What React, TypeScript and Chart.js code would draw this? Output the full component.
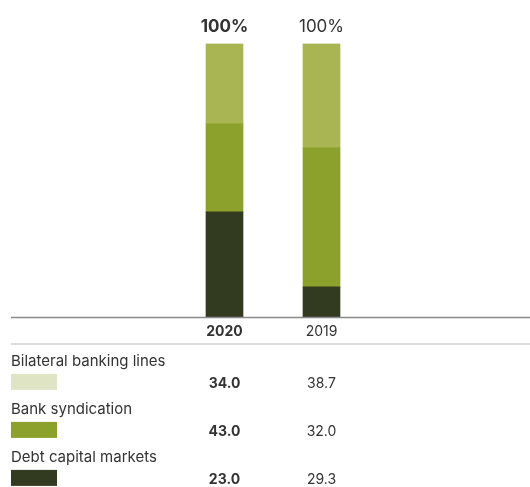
import React, { useEffect, useRef } from "react";
import { Chart, registerables } from "chart.js";

Chart.register(...registerables);

const categories = ["2020", "2019"];
const totalLabels = ["100%", "100%"];

// Bar segment heights as drawn in the picture (percent of total)
const debtCapitalMarkets = [38.4, 11.0];
const bankSyndication = [32.2, 50.8];
const bilateralBankingLines = [29.4, 38.2];

// Table rows (top to bottom)
const rowLabels = ["Bilateral banking lines", "Bank syndication", "Debt capital markets"];
const rowValues2020 = [34.0, 43.0, 23.0];
const rowValues2019 = [38.7, 32.0, 29.3];
const swatchColors = ["#dfe4c5", "#8ca12b", "#323a20"];

const FONT = "Inter, 'Noto Sans', sans-serif";
const TEXT = "#333333";

const overlay = {
  id: "overlay",
  afterDatasetsDraw(chart: any) {
    const { ctx, chartArea, scales } = chart;
    const xs = scales.x;
    const ys = scales.y;
    ctx.save();
    categories.forEach((_, i) => {
      let total = 0;
      chart.data.datasets.forEach((d: any) => (total += d.data[i]));
      const yTop = ys.getPixelForValue(total);
      ctx.font = `${i === 0 ? "bold " : ""}17px ${FONT}`;
      ctx.fillStyle = TEXT;
      ctx.textAlign = "center";
      ctx.textBaseline = "alphabetic";
      ctx.fillText(totalLabels[i], xs.getPixelForValue(i), yTop - 12);
    });
    ctx.strokeStyle = "#8a8a8a";
    ctx.lineWidth = 1.5;
    ctx.beginPath();
    ctx.moveTo(11, chartArea.bottom + 0.5);
    ctx.lineTo(530, chartArea.bottom + 0.5);
    ctx.stroke();
    ctx.restore();
  },
  afterDraw(chart: any) {
    const { ctx, chartArea, scales } = chart;
    const xs = scales.x;
    const sep = chartArea.bottom + 27;
    ctx.save();
    ctx.strokeStyle = "#d0d0d0";
    ctx.lineWidth = 1.5;
    ctx.beginPath();
    ctx.moveTo(11, sep);
    ctx.lineTo(530, sep);
    ctx.stroke();
    rowLabels.forEach((label, i) => {
      const base = sep + 48 * i;
      ctx.fillStyle = TEXT;
      ctx.textAlign = "left";
      ctx.textBaseline = "alphabetic";
      ctx.font = `15px ${FONT}`;
      ctx.fillText(label, 11, base + 22);
      ctx.fillStyle = swatchColors[i];
      ctx.fillRect(11, base + 30, 46, 16);
      ctx.fillStyle = TEXT;
      ctx.textAlign = "center";
      ctx.font = `bold 14px ${FONT}`;
      ctx.fillText(rowValues2020[i].toFixed(1), xs.getPixelForValue(0), base + 44.5);
      ctx.font = `14px ${FONT}`;
      ctx.fillText(rowValues2019[i].toFixed(1), xs.getPixelForValue(1), base + 44.5);
    });
    ctx.restore();
  },
};

export default function App() {
  const ref = useRef<HTMLCanvasElement | null>(null);
  useEffect(() => {
    if (!ref.current) return;
    const chart = new Chart(ref.current, {
      type: "bar",
      data: {
        labels: categories,
        datasets: [
          { label: "Debt capital markets", data: debtCapitalMarkets, backgroundColor: "#323a20" },
          { label: "Bank syndication", data: bankSyndication, backgroundColor: "#8ca12b" },
          { label: "Bilateral banking lines", data: bilateralBankingLines, backgroundColor: "#a9b552" },
        ],
      },
      options: {
        responsive: false,
        animation: false,
        layout: { padding: { left: 176, right: 160, top: 43.5, bottom: 141.3 } },
        datasets: { bar: { barThickness: 37, borderWidth: 0 } },
        plugins: { legend: { display: false }, tooltip: { enabled: false } },
        scales: {
          x: {
            stacked: true,
            grid: { display: false, drawTicks: false },
            border: { display: false },
            ticks: {
              padding: 6,
              color: TEXT,
              font: (c: any) => ({ family: FONT, size: 14, weight: c.index === 0 ? "bold" : "normal" }),
            },
          },
          y: { stacked: true, display: false, min: 0, max: 100 },
        },
      },
      plugins: [overlay],
    });
    return () => chart.destroy();
  }, []);
  return (
    <div style={{ position: "absolute", left: 0, top: 0, width: 530, height: 487, background: "#fff" }}>
      <canvas ref={ref} width={530} height={487} style={{ display: "block" }} />
    </div>
  );
}
